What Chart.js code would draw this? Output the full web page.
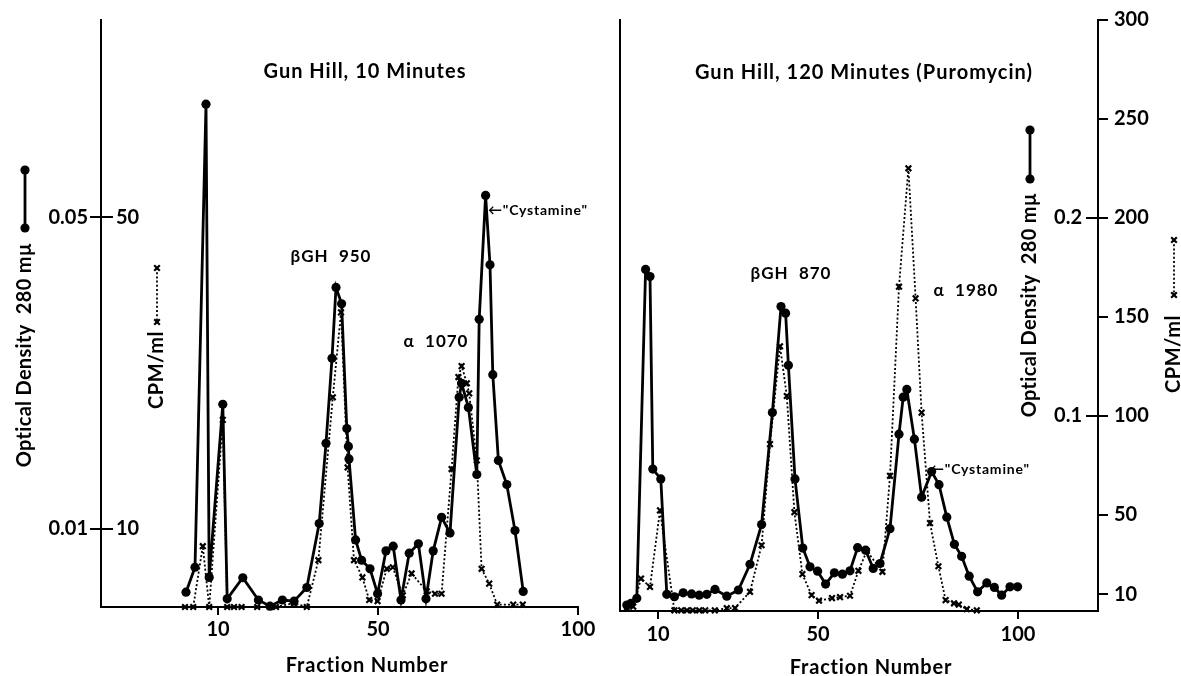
<!DOCTYPE html>
<html><head><meta charset="utf-8">
<script src="https://cdn.jsdelivr.net/npm/chart.js@4.4.1/dist/chart.umd.min.js"></script>
<style>
html,body{margin:0;padding:0;background:#fff;}
#wrap{position:relative;width:1181px;height:676px;overflow:hidden;background:#fff;}
#c1{position:absolute;left:0;top:0;width:600px;height:676px;}
#c2{position:absolute;left:600px;top:0;width:581px;height:676px;}
</style></head><body>
<div id="wrap"><canvas id="c1" width="600" height="676"></canvas><canvas id="c2" width="581" height="676"></canvas></div>
<script>
// ---------- DATA ----------
const fractionTicks = [10, 50, 100];

// Left panel: Gun Hill, 10 Minutes
const leftOdFractions = [2.0,4.25,7.0,7.8,11.2,12.3,16.2,20.1,23.0,26.1,29.0,32.2,35.3,37.0,38.5,39.5,40.9,42.2,42.6,42.75,44.4,45.9,48.0,49.9,52.0,53.8,55.75,57.8,60.1,62.0,63.8,65.9,68.0,70.3,70.9,72.6,74.7,75.3,76.9,78.0,78.7,80.1,82.2,84.25,86.3];
const leftOdValues = [0.0019,0.0051,0.0645,0.0038,0.0260,0.00105,0.00375,0.0009,0.0001,0.0009,0.00075,0.0025,0.0107,0.0210,0.0319,0.0410,0.0389,0.0229,0.0206,0.0190,0.0086,0.0060,0.0049,0.0017,0.0072,0.0078,0.0009,0.0069,0.0081,0.00105,0.0072,0.0115,0.0095,0.0269,0.0287,0.0256,0.0170,0.0369,0.0528,0.0439,0.0298,0.0188,0.0157,0.0098,0.0020];
const leftCpmFractions = [1.75,3.8,6.2,7.8,11.2,12.3,14.0,15.9,19.8,23.0,24.5,29.0,32.2,35.1,38.7,40.75,42.4,44.0,46.1,47.8,49.9,52.2,53.7,56.2,58.4,62.2,64.25,65.9,68.4,70.1,70.9,72.2,72.8,74.7,75.9,77.8,79.8,83.8,86.2];
const leftCpmValues = [0,0,7.8,0,24.0,0,0,0,0,0,0,0.5,0,6.0,26.9,37.8,17.9,6.0,3.8,0.9,0.75,4.9,5.1,1.5,4.3,2.0,1.7,1.7,17.7,29.5,30.9,28.7,27.4,18.8,4.9,3.0,0.3,0.3,0.3];

// Right panel: Gun Hill, 120 Minutes (Puromycin)
const rightOdFractions = [2.2,3.25,4.7,6.9,8.0,8.7,10.7,12.2,14.1,16.3,18.4,20.3,22.2,24.25,27.2,30.1,33.0,35.9,38.6,40.75,41.9,42.6,44.25,46.2,48.0,49.9,51.9,54.1,56.1,58.0,59.9,61.9,63.8,65.5,68.0,70.25,71.3,72.2,74.1,75.9,78.4,80.25,82.2,84.1,85.9,87.8,89.9,92.2,94.1,95.9,98.0,99.9];
const rightOdValues = [0.0045,0.0054,0.0079,0.174,0.1704,0.0732,0.0682,0.0099,0.0087,0.0107,0.0101,0.0095,0.0099,0.0124,0.0090,0.0121,0.0251,0.0452,0.1017,0.1553,0.1519,0.1256,0.0682,0.0333,0.0238,0.0216,0.0151,0.0208,0.0201,0.0218,0.0335,0.0322,0.0230,0.0255,0.0431,0.0908,0.1095,0.1134,0.0883,0.0590,0.0719,0.0653,0.0489,0.0352,0.0291,0.0191,0.0112,0.0157,0.0134,0.0095,0.0137,0.0137];
const rightCpmFractions = [2.2,3.8,5.75,8.0,10.5,14.1,15.8,17.25,18.7,20.3,21.8,24.2,27.2,29.25,33.0,35.9,38.0,40.5,42.2,44.1,46.1,48.4,50.25,53.5,55.5,58.0,60.1,62.2,66.1,68.0,70.25,72.6,74.4,75.9,78.0,80.1,81.9,84.0,85.2,87.2,89.7];
const rightCpmValues = [2.9,3.7,17.9,13.7,52.3,1.8,1.8,1.8,1.8,1.8,1.8,1.8,2.9,3.0,11.2,34.7,85.8,135.2,110.1,51.4,20.1,9.5,6.7,8.0,8.5,9.2,21.8,31.8,21.3,69.8,165.3,225.1,159.4,101.7,45.9,24.1,7.0,5.4,4.7,2.4,1.8];

// Tick values / labels
const leftOdTickValues = [0.01, 0.05];
const leftOdTickLabels = ['0.01', '0.05'];
const leftCpmTickValues = [10, 50];
const leftCpmTickLabels = ['10', '50'];
const rightOdTickValues = [0.1, 0.2];
const rightOdTickLabels = ['0.1', '0.2'];
const rightCpmTickValues = [10, 50, 100, 150, 200, 250, 300];
const rightCpmTickLabels = ['10', '50', '100', '150', '200', '250', '300'];

// ---------- STYLE / HELPERS ----------
const FAMILY = 'Lato, "DejaVu Sans", sans-serif';
const BLK = '#000';
Chart.defaults.font.family = FAMILY;
Chart.defaults.color = BLK;

function pts(xs, ys) { return xs.map((x, i) => ({ x: x, y: ys[i] })); }
function fixedTicks(values) { return function (scale) { scale.ticks = values.map(v => ({ value: v })); }; }
function labelFrom(values, labels) { return function (v) { const i = values.findIndex(t => Math.abs(t - v) < 1e-9); return i >= 0 ? labels[i] : ''; }; }
function fitWidth(w) { return function (s) { s.width = w; s.paddingTop = 0; s.paddingBottom = 0; }; }

function solidDs(data, axis) {
  return { data: data, yAxisID: axis, borderColor: BLK, backgroundColor: BLK, borderWidth: 2.8,
    pointStyle: 'circle', pointRadius: 4.6, pointBackgroundColor: BLK, pointBorderWidth: 0,
    tension: 0, clip: false, order: 0 };
}
function dottedDs(data, axis) {
  return { data: data, yAxisID: axis, borderColor: BLK, backgroundColor: BLK, borderWidth: 1.8, borderDash: [2, 2.2],
    pointStyle: 'crossRot', pointRadius: 4, pointBorderWidth: 2.2, pointBorderColor: BLK, pointBackgroundColor: BLK,
    tension: 0, clip: false, order: 1 };
}
const tickFont = { size: 20, weight: 'bold' };

function makeDecor(cfg) {
  return {
    id: 'decor',
    afterDraw(chart) {
      const ctx = chart.ctx, ca = chart.chartArea;
      ctx.save();
      ctx.fillStyle = BLK; ctx.strokeStyle = BLK;
      if (cfg.inner) {
        const s = chart.scales[cfg.inner.axis];
        ctx.lineWidth = 2;
        cfg.inner.values.forEach(v => {
          const y = Math.round(s.getPixelForValue(v));
          const x0 = cfg.inner.side === 'left' ? ca.left : ca.right - cfg.inner.len;
          ctx.beginPath(); ctx.moveTo(x0, y); ctx.lineTo(x0 + cfg.inner.len, y); ctx.stroke();
        });
      }
      cfg.glyphs.forEach(g => {
        ctx.save();
        if (g.type === 'solid') {
          ctx.lineWidth = 2.8;
          ctx.beginPath(); ctx.moveTo(g.x, g.y1); ctx.lineTo(g.x, g.y2); ctx.stroke();
          [g.y1, g.y2].forEach(y => { ctx.beginPath(); ctx.arc(g.x, y, 4.6, 0, Math.PI * 2); ctx.fill(); });
        } else {
          ctx.lineWidth = 1.8; ctx.setLineDash([2, 2.2]);
          ctx.beginPath(); ctx.moveTo(g.x, g.y1); ctx.lineTo(g.x, g.y2); ctx.stroke();
          ctx.setLineDash([]); ctx.lineWidth = 2.2;
          [g.y1, g.y2].forEach(y => {
            const d = 2.8;
            ctx.beginPath(); ctx.moveTo(g.x - d, y - d); ctx.lineTo(g.x + d, y + d);
            ctx.moveTo(g.x + d, y - d); ctx.lineTo(g.x - d, y + d); ctx.stroke();
          });
        }
        ctx.restore();
      });
      cfg.texts.forEach(t => {
        ctx.save();
        ctx.font = 'bold ' + t.size + 'px ' + FAMILY;
        ctx.letterSpacing = (t.ls || 0) + 'px';
        ctx.textAlign = t.align || 'center';
        ctx.textBaseline = 'middle';
        ctx.translate(t.x, t.y);
        if (t.rot) ctx.rotate(-Math.PI / 2);
        ctx.fillText(t.text, 0, 0);
        ctx.restore();
      });
      ctx.restore();
    }
  };
}

// ---------- LEFT CHART ----------
const leftDecor = {
  inner: { axis: 'yCPM', values: leftCpmTickValues, side: 'left', len: 12 },
  glyphs: [ { type: 'solid', x: 25, y1: 170, y2: 228 }, { type: 'dotted', x: 157, y1: 268, y2: 322 } ],
  texts: [
    { text: 'Gun Hill, 10 Minutes', x: 365, y: 72, size: 20, ls: 1 },
    { text: 'βGH  950', x: 331, y: 257, size: 17, ls: 1 },
    { text: 'α  1070', x: 436, y: 342, size: 17, ls: 1 },
    { text: '\u2190"Cystamine"', x: 488, y: 210, size: 14, ls: 0.8, align: 'left' },
    { text: 'Optical Density  280 mµ', x: 25, y: 355, size: 20, ls: 0.3, rot: true },
    { text: 'CPM/ml', x: 157, y: 370, size: 20, ls: 0.5, rot: true },
    { text: 'Fraction Number', x: 367, y: 666, size: 20, ls: 0.8 }
  ]
};

new Chart(document.getElementById('c1'), {
  type: 'line',
  data: { datasets: [
    solidDs(pts(leftOdFractions, leftOdValues), 'yOD'),
    dottedDs(pts(leftCpmFractions, leftCpmValues), 'yCPM')
  ] },
  options: {
    responsive: false, animation: false, devicePixelRatio: 1,
    layout: { padding: { left: 0, right: 22, top: 20, bottom: 0 } },
    plugins: { legend: { display: false }, tooltip: { enabled: false } },
    scales: {
      x: { type: 'linear', min: -19.25, max: 100, afterBuildTicks: fixedTicks(fractionTicks),
        afterFit: s => { s.height = 69; },
        grid: { drawOnChartArea: false, tickLength: 8, color: BLK, lineWidth: 2 },
        border: { color: BLK, width: 2 },
        ticks: { font: tickFont, padding: 3, maxRotation: 0, autoSkip: false, callback: v => String(v) } },
      yOD: { type: 'linear', position: 'left', weight: 1, min: 0, max: 0.0753,
        afterBuildTicks: fixedTicks(leftOdTickValues), afterFit: fitWidth(101),
        grid: { drawOnChartArea: false, tickLength: 11, color: BLK, lineWidth: 2 },
        border: { color: BLK, width: 2 },
        ticks: { font: tickFont, padding: 2, callback: labelFrom(leftOdTickValues, leftOdTickLabels) } },
      yCPM: { type: 'linear', position: 'left', weight: 0, min: 0, max: 75.3,
        afterBuildTicks: fixedTicks(leftCpmTickValues), afterFit: fitWidth(0),
        grid: { display: false }, border: { display: false },
        ticks: { mirror: true, font: tickFont, padding: 15, callback: labelFrom(leftCpmTickValues, leftCpmTickLabels) } }
    }
  },
  plugins: [makeDecor(leftDecor)]
});

// ---------- RIGHT CHART ----------
const rightDecor = {
  inner: { axis: 'yOD', values: rightOdTickValues, side: 'right', len: 12 },
  glyphs: [ { type: 'solid', x: 430, y1: 130, y2: 179 }, { type: 'dotted', x: 574, y1: 240, y2: 295 } ],
  texts: [
    { text: 'Gun Hill, 120 Minutes (Puromycin)', x: 264, y: 73, size: 20, ls: 1 },
    { text: 'βGH  870', x: 191, y: 274, size: 17, ls: 1 },
    { text: 'α  1980', x: 366, y: 291, size: 17, ls: 1 },
    { text: '\u2190"Cystamine"', x: 330, y: 469, size: 14, ls: 0.8, align: 'left' },
    { text: 'Optical Density  280 mµ', x: 430, y: 305, size: 20, ls: 0.3, rot: true },
    { text: 'CPM/ml', x: 574, y: 354, size: 20, ls: 0.5, rot: true },
    { text: 'Fraction Number', x: 271, y: 668, size: 20, ls: 0.8 }
  ]
};

new Chart(document.getElementById('c2'), {
  type: 'line',
  data: { datasets: [
    solidDs(pts(rightOdFractions, rightOdValues), 'yOD'),
    dottedDs(pts(rightCpmFractions, rightCpmValues), 'yCPM')
  ] },
  options: {
    responsive: false, animation: false, devicePixelRatio: 1,
    layout: { padding: { left: 20, right: 0, top: 20, bottom: 0 } },
    plugins: { legend: { display: false }, tooltip: { enabled: false } },
    scales: {
      x: { type: 'linear', min: 0.5, max: 120, afterBuildTicks: fixedTicks(fractionTicks),
        afterFit: s => { s.height = 65; },
        grid: { drawOnChartArea: false, tickLength: 8, color: BLK, lineWidth: 2 },
        border: { color: BLK, width: 2 },
        ticks: { font: tickFont, padding: 4, maxRotation: 0, autoSkip: false, callback: v => String(v) } },
      yLeft: { type: 'linear', position: 'left', min: 1.5, max: 300,
        afterFit: fitWidth(0),
        grid: { display: false }, border: { color: BLK, width: 2 }, ticks: { display: false } },
      yOD: { type: 'linear', position: 'right', weight: 0, min: 0.0015, max: 0.3,
        afterBuildTicks: fixedTicks(rightOdTickValues), afterFit: fitWidth(0),
        grid: { display: false }, border: { display: false },
        ticks: { mirror: true, font: tickFont, padding: -16, callback: labelFrom(rightOdTickValues, rightOdTickLabels) } },
      yCPM: { type: 'linear', position: 'right', weight: 1, min: 1.5, max: 300,
        afterBuildTicks: fixedTicks(rightCpmTickValues), afterFit: fitWidth(83),
        grid: { drawOnChartArea: false, tickLength: 10, color: BLK, lineWidth: 2 },
        border: { color: BLK, width: 2 },
        ticks: { font: tickFont, padding: 6, callback: labelFrom(rightCpmTickValues, rightCpmTickLabels) } }
    }
  },
  plugins: [makeDecor(rightDecor)]
});
</script>
</body></html>
